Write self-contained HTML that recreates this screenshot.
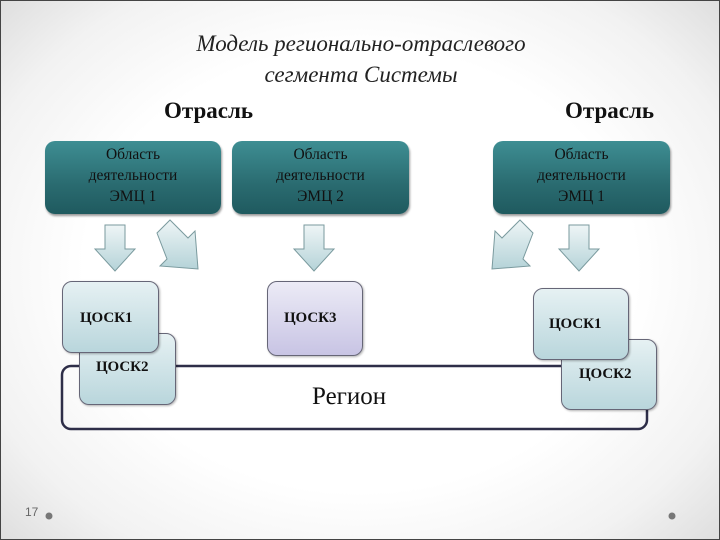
<!DOCTYPE html>
<html><head><meta charset="utf-8"><style>
body{margin:0}
#s{position:relative;width:720px;height:540px;overflow:hidden;box-sizing:border-box;border:1px solid #444;
background:radial-gradient(ellipse 70% 75% at 50% 50%,#fff 55%,#f2f2f2 80%,#dcdcdc 100%);font-family:"Liberation Serif",serif}
.a{position:absolute}
.t{font-style:italic;font-size:23px;color:#222;width:720px;text-align:center;left:0}
.o{font-weight:bold;font-size:23px;color:#111}
.e{border-radius:10px;background:linear-gradient(#3e8e93,#2a6b70 60%,#1f5a5f);box-shadow:1px 2px 2px rgba(0,0,0,.4);text-align:center;font-size:15.5px;line-height:21px;color:#111;box-sizing:border-box;padding-top:3px}
.c{border-radius:10px;border:1px solid #667;background:linear-gradient(#e6f1f3,#b9d6dc);box-sizing:border-box;font-weight:bold;font-size:15px;color:#111;box-shadow:1px 1px 2px rgba(0,0,0,.3)}
</style></head><body><div id="s">
<div class="a t" style="top:30px">Модель регионально-отраслевого</div>
<div class="a t" style="top:61px">сегмента Системы</div>
<div class="a o" style="left:163px;top:97px">Отрасль</div>
<div class="a o" style="left:564px;top:97px">Отрасль</div>
<div class="a e" style="left:44px;top:140px;width:176px;height:73px">Область<br>деятельности<br>ЭМЦ 1</div>
<div class="a e" style="left:231px;top:140px;width:177px;height:73px">Область<br>деятельности<br>ЭМЦ 2</div>
<div class="a e" style="left:492px;top:140px;width:177px;height:73px">Область<br>деятельности<br>ЭМЦ 1</div>
<svg class="a" style="left:0;top:0" width="720" height="540">
<defs><linearGradient id="g" x1="0" y1="0" x2="0" y2="1"><stop offset="0" stop-color="#eef5f6"/><stop offset="1" stop-color="#b5d3d8"/></linearGradient></defs>
<g fill="url(#g)" stroke="#7a9a9e" stroke-width="1">
<path d="M104 224h20v24h10l-20 22-20-22h10z"/>
<path d="M303 224h20v24h10l-20 22-20-22h10z"/>
<path d="M568 224h20v24h10l-20 22-20-22h10z"/>
<path d="M156 232l13-13 18 18 7-7 3 38-38-3 7-7z"/>
<path d="M532 232l-13-13-18 18-7-7-3 38 38-3-7-7z"/>
</g>
<rect x="61" y="365" width="585" height="63" rx="9" fill="none" stroke="#2e2e48" stroke-width="2.5"/>
<circle cx="48" cy="515" r="3.5" fill="#777"/><circle cx="671" cy="515" r="3.5" fill="#777"/>
</svg>
<div class="a c" style="left:78px;top:332px;width:97px;height:72px;padding:25px 0 0 16px">ЦОСК2</div>
<div class="a c" style="left:61px;top:280px;width:97px;height:72px;padding:28px 0 0 17px">ЦОСК1</div>
<div class="a c" style="left:266px;top:280px;width:96px;height:75px;padding:28px 0 0 16px;background:linear-gradient(#ecebf6,#c8c4e4)">ЦОСК3</div>
<div class="a c" style="left:560px;top:338px;width:96px;height:71px;padding:26px 0 0 17px">ЦОСК2</div>
<div class="a c" style="left:532px;top:287px;width:96px;height:72px;padding:27px 0 0 15px">ЦОСК1</div>
<div class="a" style="left:311px;top:382px;font-size:25px;color:#111">Регион</div>
<div class="a" style="left:24px;top:504px;font-size:12px;color:#666;font-family:'Liberation Sans',sans-serif">17</div>
</div></body></html>
